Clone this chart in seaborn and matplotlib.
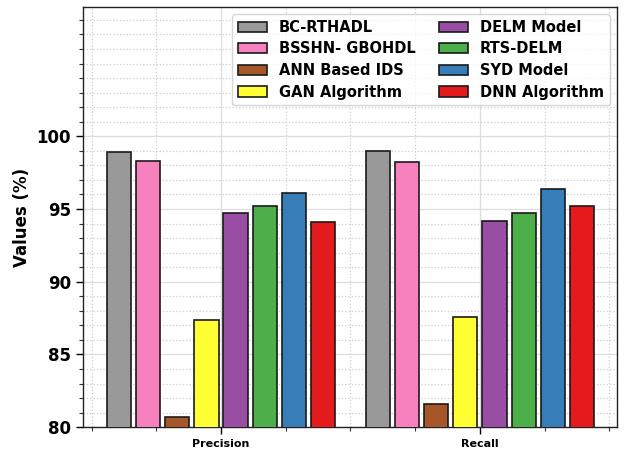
import matplotlib
matplotlib.use("Agg")
import matplotlib.pyplot as plt
from matplotlib.ticker import MultipleLocator, FixedLocator
import seaborn as sns
import pandas as pd

# Evaluation metrics and compared models
metrics = ["Precision", "Recall"]
models = ["BC-RTHADL", "BSSHN- GBOHDL", "ANN Based IDS", "GAN Algorithm",
          "DELM Model", "RTS-DELM", "SYD Model", "DNN Algorithm"]
precision = [98.9, 98.3, 80.7, 87.4, 94.7, 95.2, 96.1, 94.1]
recall = [99.0, 98.2, 81.6, 87.6, 94.2, 94.7, 96.4, 95.2]
colors = ["#999999", "#f781bf", "#a65628", "#ffff33",
          "#984ea3", "#4daf4a", "#377eb8", "#e41a1c"]
y_ticks = [80, 85, 90, 95, 100]

df = pd.DataFrame({
    "Metric": [m for m in metrics for _ in models],
    "Model": models * len(metrics),
    "Value": precision + recall,
})

sns.set_style("white")
plt.rcParams["font.family"] = ["DejaVu Sans"]
plt.rcParams["text.color"] = "black"
plt.rcParams["axes.labelcolor"] = "black"
plt.rcParams["xtick.color"] = "black"
plt.rcParams["ytick.color"] = "black"

fig = plt.figure(figsize=(6.24, 4.53), dpi=100)
ax = fig.add_axes([0.133, 0.057, 0.856, 0.928])

sns.barplot(data=df, x="Metric", y="Value", hue="Model", hue_order=models,
            order=metrics, palette=colors, width=0.9, gap=0.17,
            edgecolor="#1a1a1a", linewidth=1.2, saturation=1, ax=ax,
            zorder=3)

ymax = max(precision + recall) * 1.1
ax.set_ylim(80, ymax)
ax.set_xlim(-0.533, 1.53)

ax.yaxis.set_major_locator(FixedLocator(y_ticks))
ax.yaxis.set_minor_locator(MultipleLocator(1))
ax.xaxis.set_minor_locator(MultipleLocator(0.25))

ax.grid(which="major", color="#dddddd", linestyle="-", linewidth=0.9, zorder=0)
ax.grid(which="minor", color="#cccccc", linestyle=":", linewidth=0.9, zorder=0)
ax.set_axisbelow(True)

ax.tick_params(axis="y", which="major", labelsize=12, length=5, width=1,
               direction="out", left=True, colors="black")
ax.tick_params(axis="y", which="minor", length=3, width=0.8, left=True,
               colors="#333333")
ax.tick_params(axis="x", which="major", labelsize=8, length=5, width=1,
               direction="out", bottom=True, colors="black")
ax.tick_params(axis="x", which="minor", length=3, width=0.8, bottom=True,
               colors="#333333")
for lbl in ax.get_yticklabels() + ax.get_xticklabels():
    lbl.set_fontweight("bold")
    lbl.set_color("black")

ax.set_xlabel("")
ax.set_ylabel("Values (%)", fontsize=12, fontweight="bold", color="black")

for s in ax.spines.values():
    s.set_color("#222222")
    s.set_linewidth(1.0)

leg = ax.legend(loc="upper right", ncol=2, prop={"weight": "bold", "size": 10.5},
                frameon=True, borderaxespad=0.5, handlelength=2.0,
                columnspacing=1.6, labelspacing=0.45, borderpad=0.4)
for t in leg.get_texts():
    t.set_color("black")

fig.savefig("out.png", dpi=100)
